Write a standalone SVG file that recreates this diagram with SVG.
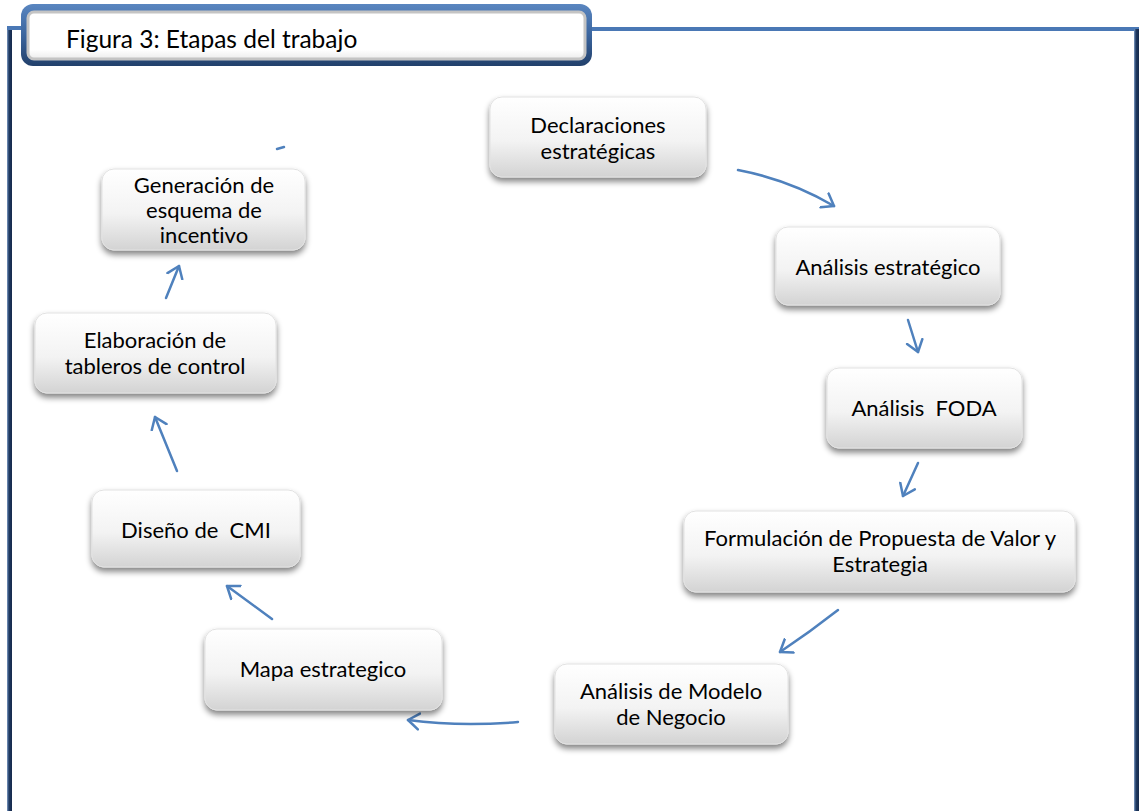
<svg xmlns="http://www.w3.org/2000/svg" width="1139" height="811" viewBox="0 0 1139 811">
  <defs>
    <linearGradient id="boxFill" x1="0" y1="0" x2="0" y2="1">
      <stop offset="0" stop-color="#ffffff"/>
      <stop offset="0.55" stop-color="#f3f3f3"/>
      <stop offset="1" stop-color="#d3d3d3"/>
    </linearGradient>
    <linearGradient id="titleOuter" x1="0" y1="0" x2="0" y2="1">
      <stop offset="0" stop-color="#5a86c0"/>
      <stop offset="0.5" stop-color="#3b659e"/>
      <stop offset="1" stop-color="#22406b"/>
    </linearGradient>
    <linearGradient id="titleInner" x1="0" y1="0" x2="0" y2="1">
      <stop offset="0" stop-color="#ffffff"/>
      <stop offset="0.8" stop-color="#ffffff"/>
      <stop offset="1" stop-color="#ececec"/>
    </linearGradient>
    <linearGradient id="sideLine" x1="0" y1="0" x2="1" y2="0">
      <stop offset="0" stop-color="#7f9cc4"/>
      <stop offset="0.4" stop-color="#1f3a63"/>
      <stop offset="1" stop-color="#16294a"/>
    </linearGradient>
    <filter id="shadow" x="-10%" y="-10%" width="120%" height="140%">
      <feGaussianBlur in="SourceAlpha" stdDeviation="3"/>
      <feOffset dx="0" dy="4" result="b"/>
      <feComponentTransfer><feFuncA type="linear" slope="0.5"/></feComponentTransfer>
      <feMerge><feMergeNode/><feMergeNode in="SourceGraphic"/></feMerge>
    </filter>
    <marker id="chev" viewBox="-12 -10 14 20" markerWidth="14" markerHeight="20" refX="0" refY="0" orient="auto" markerUnits="userSpaceOnUse">
      <path d="M-11,-8 L0,0 L-11,8" fill="none" stroke="#4f81bd" stroke-width="2.5" stroke-linecap="round" stroke-linejoin="round"/>
    </marker>
  </defs>
  <style>
    .box { fill: url(#boxFill); stroke: #e2e2e2; stroke-width: 1; filter: url(#shadow); }
    .lbl { font-family: Lato, "Liberation Sans", sans-serif; font-size: 22px; fill: #000; text-anchor: middle; white-space: pre; font-variant-ligatures: none; }
    .conn path { fill: none; stroke: #4f81bd; stroke-width: 2.5; stroke-linecap: round; marker-end: url(#chev); }
  </style>

  <rect width="1139" height="811" fill="#ffffff"/>

  <!-- page frame -->
  <g id="frame">
    <rect x="7" y="26" width="5" height="785" fill="url(#sideLine)"/>
    <rect x="7" y="26" width="20" height="4" fill="#4a78b5"/>
    <rect x="588" y="27" width="551" height="4" fill="#4a78b5"/>
    <rect x="1134" y="29" width="5" height="782" fill="url(#sideLine)"/>
  </g>

  <!-- caption -->
  <g id="title">
    <rect x="21" y="4" width="571" height="62" rx="12" fill="url(#titleOuter)"/>
    <rect x="28" y="12" width="557" height="47" rx="6" fill="url(#titleInner)" stroke="#c4c4c4" stroke-width="3"/>
    <text x="66" y="48" font-family="Lato, 'Liberation Sans', sans-serif" font-size="24.5" fill="#000">Figura 3: Etapas del trabajo</text>
  </g>

  <!-- connectors -->
  <g id="connectors" class="conn">
    <path d="M738,170 Q790,180 834,206"/>
    <path d="M908,320 L918,352"/>
    <path d="M918,463 L903,496"/>
    <path d="M838,610 Q810,632 780,652"/>
    <path d="M518,722 Q460,727 408,720"/>
    <path d="M272,619 L227,586"/>
    <path d="M177,471 L155,417"/>
    <path d="M166,298 L179,266"/>
    <path d="M277,149 L284,147" style="marker-end:none"/>
  </g>

  <!-- process steps -->
  <g id="n1">
    <rect class="box" x="490" y="97" width="216" height="80" rx="12"/>
    <text class="lbl" x="598" y="133">Declaraciones</text>
    <text class="lbl" x="598" y="159">estratégicas</text>
  </g>
  <g id="n2">
    <rect class="box" x="776" y="227" width="224" height="78" rx="12"/>
    <text class="lbl" x="888" y="275">Análisis estratégico</text>
  </g>
  <g id="n3">
    <rect class="box" x="827" y="368" width="195" height="80" rx="12"/>
    <text class="lbl" x="924" y="416">Análisis  FODA</text>
  </g>
  <g id="n4">
    <rect class="box" x="684" y="511" width="391" height="81" rx="12"/>
    <text class="lbl" x="880" y="546">Formulación de Propuesta de Valor y</text>
    <text class="lbl" x="880" y="572">Estrategia</text>
  </g>
  <g id="n5">
    <rect class="box" x="555" y="664" width="233" height="80" rx="12"/>
    <text class="lbl" x="671" y="699">Análisis de Modelo</text>
    <text class="lbl" x="671" y="725">de Negocio</text>
  </g>
  <g id="n6">
    <rect class="box" x="205" y="629" width="237" height="81" rx="12"/>
    <text class="lbl" x="323" y="677">Mapa estrategico</text>
  </g>
  <g id="n7">
    <rect class="box" x="92" y="490" width="208" height="77" rx="12"/>
    <text class="lbl" x="196" y="538">Diseño de  CMI</text>
  </g>
  <g id="n8">
    <rect class="box" x="35" y="313" width="241" height="80" rx="12"/>
    <text class="lbl" x="155" y="348">Elaboración de</text>
    <text class="lbl" x="155" y="374">tableros de control</text>
  </g>
  <g id="n9">
    <rect class="box" x="102" y="169" width="203" height="81" rx="12"/>
    <text class="lbl" x="204" y="193">Generación de</text>
    <text class="lbl" x="204" y="218">esquema de</text>
    <text class="lbl" x="204" y="243">incentivo</text>
  </g>
</svg>
